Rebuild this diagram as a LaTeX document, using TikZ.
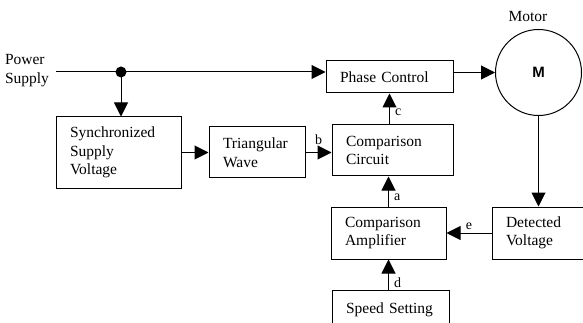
\documentclass[tikz,border=0pt]{standalone}
\usepackage{fontspec}
\setmainfont{Liberation Serif}
\setsansfont{Liberation Sans}
\usetikzlibrary{arrows.meta}
\tikzset{
  block/.style={draw=black, line width=1pt, align=left, inner xsep=14pt, inner ysep=2pt,
    font=\fontsize{15.5}{18.5}\selectfont},
  sig/.style={line width=1pt, -{Triangle[length=14pt,width=14pt]}},
  tag/.style={font=\fontsize{14}{16}\selectfont, inner sep=1pt},
}
\begin{document}
\begin{tikzpicture}[x=1pt, y=-1pt]
\useasboundingbox (0,0) rectangle (583,323);

% blocks
\node [block, text width=97pt, minimum height=71pt] (sync) at (118.5,152.5) {Synchronized\\Supply\\Voltage};
\node [block, text width=68pt, minimum height=51pt] (tri) at (257,152.5) {Triangular\\Wave};
\node [block, text width=93pt, minimum height=51pt] (cmpc) at (392.5,150.5) {Comparison\\Circuit};
\node [block, text width=99pt, minimum height=32pt] (phase) at (389.5,77) {Phase Control};
\node [block, text width=87pt, minimum height=52pt] (amp) at (388.5,233) {Comparison\\Amplifier};
\node [block, text width=70pt, minimum height=52pt] (det) at (541,233) {Detected\\Voltage};
\node [block, text width=89pt, minimum height=40pt] (speed) at (390.5,310) {Speed Setting};

% motor
\node [draw=black, line width=1pt, circle, minimum size=86pt, inner sep=0pt,
  font=\sffamily\bfseries\fontsize{15}{17}\selectfont] (motor) at (538.5,72.5) {M};
\node [font=\fontsize{15.5}{18}\selectfont] (mlbl) at (528,17) {Motor};

% supply
\node [font=\fontsize{15.5}{19}\selectfont, align=left, inner sep=0pt] (supply) at (27,71) {Power\\Supply};
\coordinate (src) at (56,72);
\coordinate (jn) at (121,72);

\draw [sig] (src) -- (src -| phase.west);
\fill (jn) circle (5.5pt);
\draw [sig] (jn) -- (jn |- sync.north);
\draw [sig] (motor.west -| phase.east) -- (motor.west);
\draw [sig] (sync.east) -- (tri.west);
\draw [sig] (tri.east) -- (tri.east -| cmpc.west) node [tag, above, midway, yshift=6pt] {b};
\draw [sig] (phase.south |- cmpc.north) -- (phase.south) node [tag, right=4pt, pos=0.4] {c};
\draw [sig] (amp.north) -- (amp.north |- cmpc.south) node [tag, right=4pt, pos=0.32] {a};
\draw [sig] (amp.south |- speed.north) -- (amp.south) node [tag, right=4pt, pos=0.23] {d};
\draw [sig] (motor.south) -- (motor.south |- det.north);
\draw [sig] (det.west) -- (amp.east) node [tag, above, midway, yshift=2pt] {e};

\end{tikzpicture}
\end{document}
